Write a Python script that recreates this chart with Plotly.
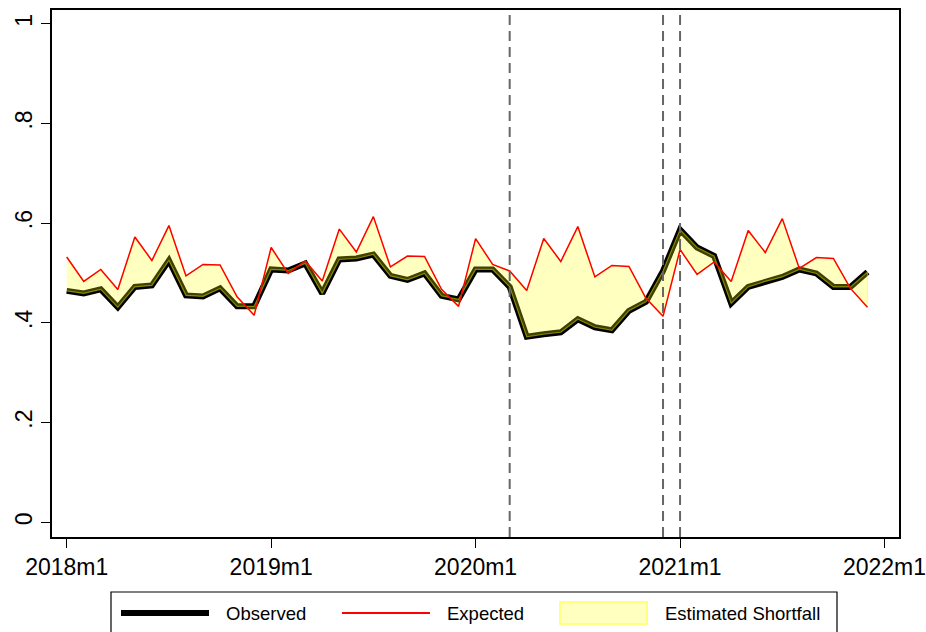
import plotly.graph_objects as go

# ---- data ----
years = [2018, 2019, 2020, 2021]
months = [f"{y}m{m}" for y in years for m in range(1, 13)]
observed = [0.464, 0.459, 0.467, 0.431, 0.472, 0.475, 0.525, 0.455, 0.453, 0.469, 0.433, 0.433,
            0.507, 0.505, 0.519, 0.459, 0.527, 0.529, 0.537, 0.494, 0.486, 0.499, 0.454, 0.447,
            0.507, 0.507, 0.472, 0.372, 0.377, 0.381, 0.407, 0.391, 0.385, 0.424, 0.442, 0.504,
            0.587, 0.551, 0.534, 0.439, 0.472, 0.483, 0.492, 0.507, 0.499, 0.472, 0.472, 0.502]
expected = [0.532, 0.483, 0.507, 0.467, 0.572, 0.525, 0.595, 0.494, 0.517, 0.516, 0.452, 0.415,
            0.551, 0.499, 0.524, 0.484, 0.588, 0.542, 0.613, 0.512, 0.534, 0.533, 0.467, 0.433,
            0.569, 0.517, 0.504, 0.465, 0.569, 0.523, 0.593, 0.492, 0.515, 0.513, 0.449, 0.413,
            0.547, 0.497, 0.522, 0.483, 0.585, 0.541, 0.609, 0.509, 0.531, 0.529, 0.469, 0.431]
event_months = ["2020m3", "2020m12", "2021m1"]
xtick_labels = ["2018m1", "2019m1", "2020m1", "2021m1", "2022m1"]
ytick_vals = [0, 0.2, 0.4, 0.6, 0.8, 1]
ytick_text = ["0", ".2", ".4", ".6", ".8", "1"]
legend_labels = ["Observed", "Expected", "Estimated Shortfall"]

x = list(range(len(months)))
xtick_vals = [12 * i for i in range(len(xtick_labels))]

FONT = "Liberation Sans, Arial, sans-serif"
W, H = 926, 632
ML, MR, MT, MB = 52, 27, 10, 95
PW, PH = W - ML - MR, H - MT - MB


def px(v):  # pixel x -> paper x
    return (v - ML) / PW


def py(v):  # pixel y -> paper y
    return (H - MB - v) / PH


fig = go.Figure()

# observed thick black line
fig.add_trace(go.Scatter(x=x, y=observed, mode="lines", name="Observed",
                         line=dict(color="black", width=6), showlegend=False))

# shortfall area polygon (semi-transparent yellow, drawn above black line)
fig.add_trace(go.Scatter(x=x + x[::-1], y=observed + expected[::-1], mode="lines",
                         fill="toself", fillcolor="rgba(255,255,0,0.25)",
                         line=dict(color="rgba(255,255,0,0.45)", width=1.2),
                         showlegend=False, hoverinfo="skip"))

# expected red line
fig.add_trace(go.Scatter(x=x, y=expected, mode="lines", name="Expected",
                         line=dict(color="#ff0000", width=1.5), showlegend=False))

shapes = []
for m in event_months:
    xi = months.index(m)
    shapes.append(dict(type="line", x0=xi, x1=xi, xref="x", y0=0, y1=1, yref="paper",
                       line=dict(color="#666666", width=2, dash="10px,6px"), layer="above"))

# manual legend (Stata style)
shapes.append(dict(type="rect", xref="paper", yref="paper", x0=px(111), x1=px(837),
                   y0=py(592), y1=py(660), line=dict(color="black", width=1.2),
                   fillcolor="white", layer="above"))
shapes.append(dict(type="line", xref="paper", yref="paper", x0=px(121), x1=px(209),
                   y0=py(613), y1=py(613), line=dict(color="black", width=6)))
shapes.append(dict(type="line", xref="paper", yref="paper", x0=px(342), x1=px(430),
                   y0=py(613), y1=py(613), line=dict(color="#ff0000", width=2)))
shapes.append(dict(type="rect", xref="paper", yref="paper", x0=px(560), x1=px(647),
                   y0=py(602), y1=py(624), fillcolor="#ffffc0",
                   line=dict(color="#ffff80", width=2)))

annotations = []
for lbl, lx in zip(legend_labels, [224, 445, 663]):
    annotations.append(dict(text=lbl, xref="paper", yref="paper", x=px(lx), y=py(613),
                            xanchor="left", yanchor="middle", showarrow=False,
                            font=dict(size=18.5, family=FONT, color="black")))

fig.update_layout(
    width=W, height=H,
    margin=dict(l=ML, r=MR, t=MT, b=MB, autoexpand=False),
    paper_bgcolor="white", plot_bgcolor="white",
    font=dict(family=FONT, color="black"),
    showlegend=False,
    shapes=shapes, annotations=annotations,
    xaxis=dict(range=[-0.863, 48.85], tickvals=xtick_vals, ticktext=xtick_labels,
               showgrid=False, zeroline=False, showline=True, linecolor="black",
               linewidth=1.5, mirror=True, ticks="outside", ticklen=9, tickwidth=1.2,
               tickcolor="black", tickfont=dict(size=23, family=FONT),
               ticklabeloverflow="allow"),
    yaxis=dict(range=[-0.0297, 1.0275], tickvals=ytick_vals, ticktext=ytick_text,
               tickangle=-90, showgrid=False, zeroline=False, showline=True,
               linecolor="black", linewidth=1.5, mirror=True, ticks="outside",
               ticklen=9, tickwidth=1.2, tickcolor="black",
               tickfont=dict(size=23, family=FONT), ticklabeloverflow="allow"),
)

fig.write_html("out.html")
